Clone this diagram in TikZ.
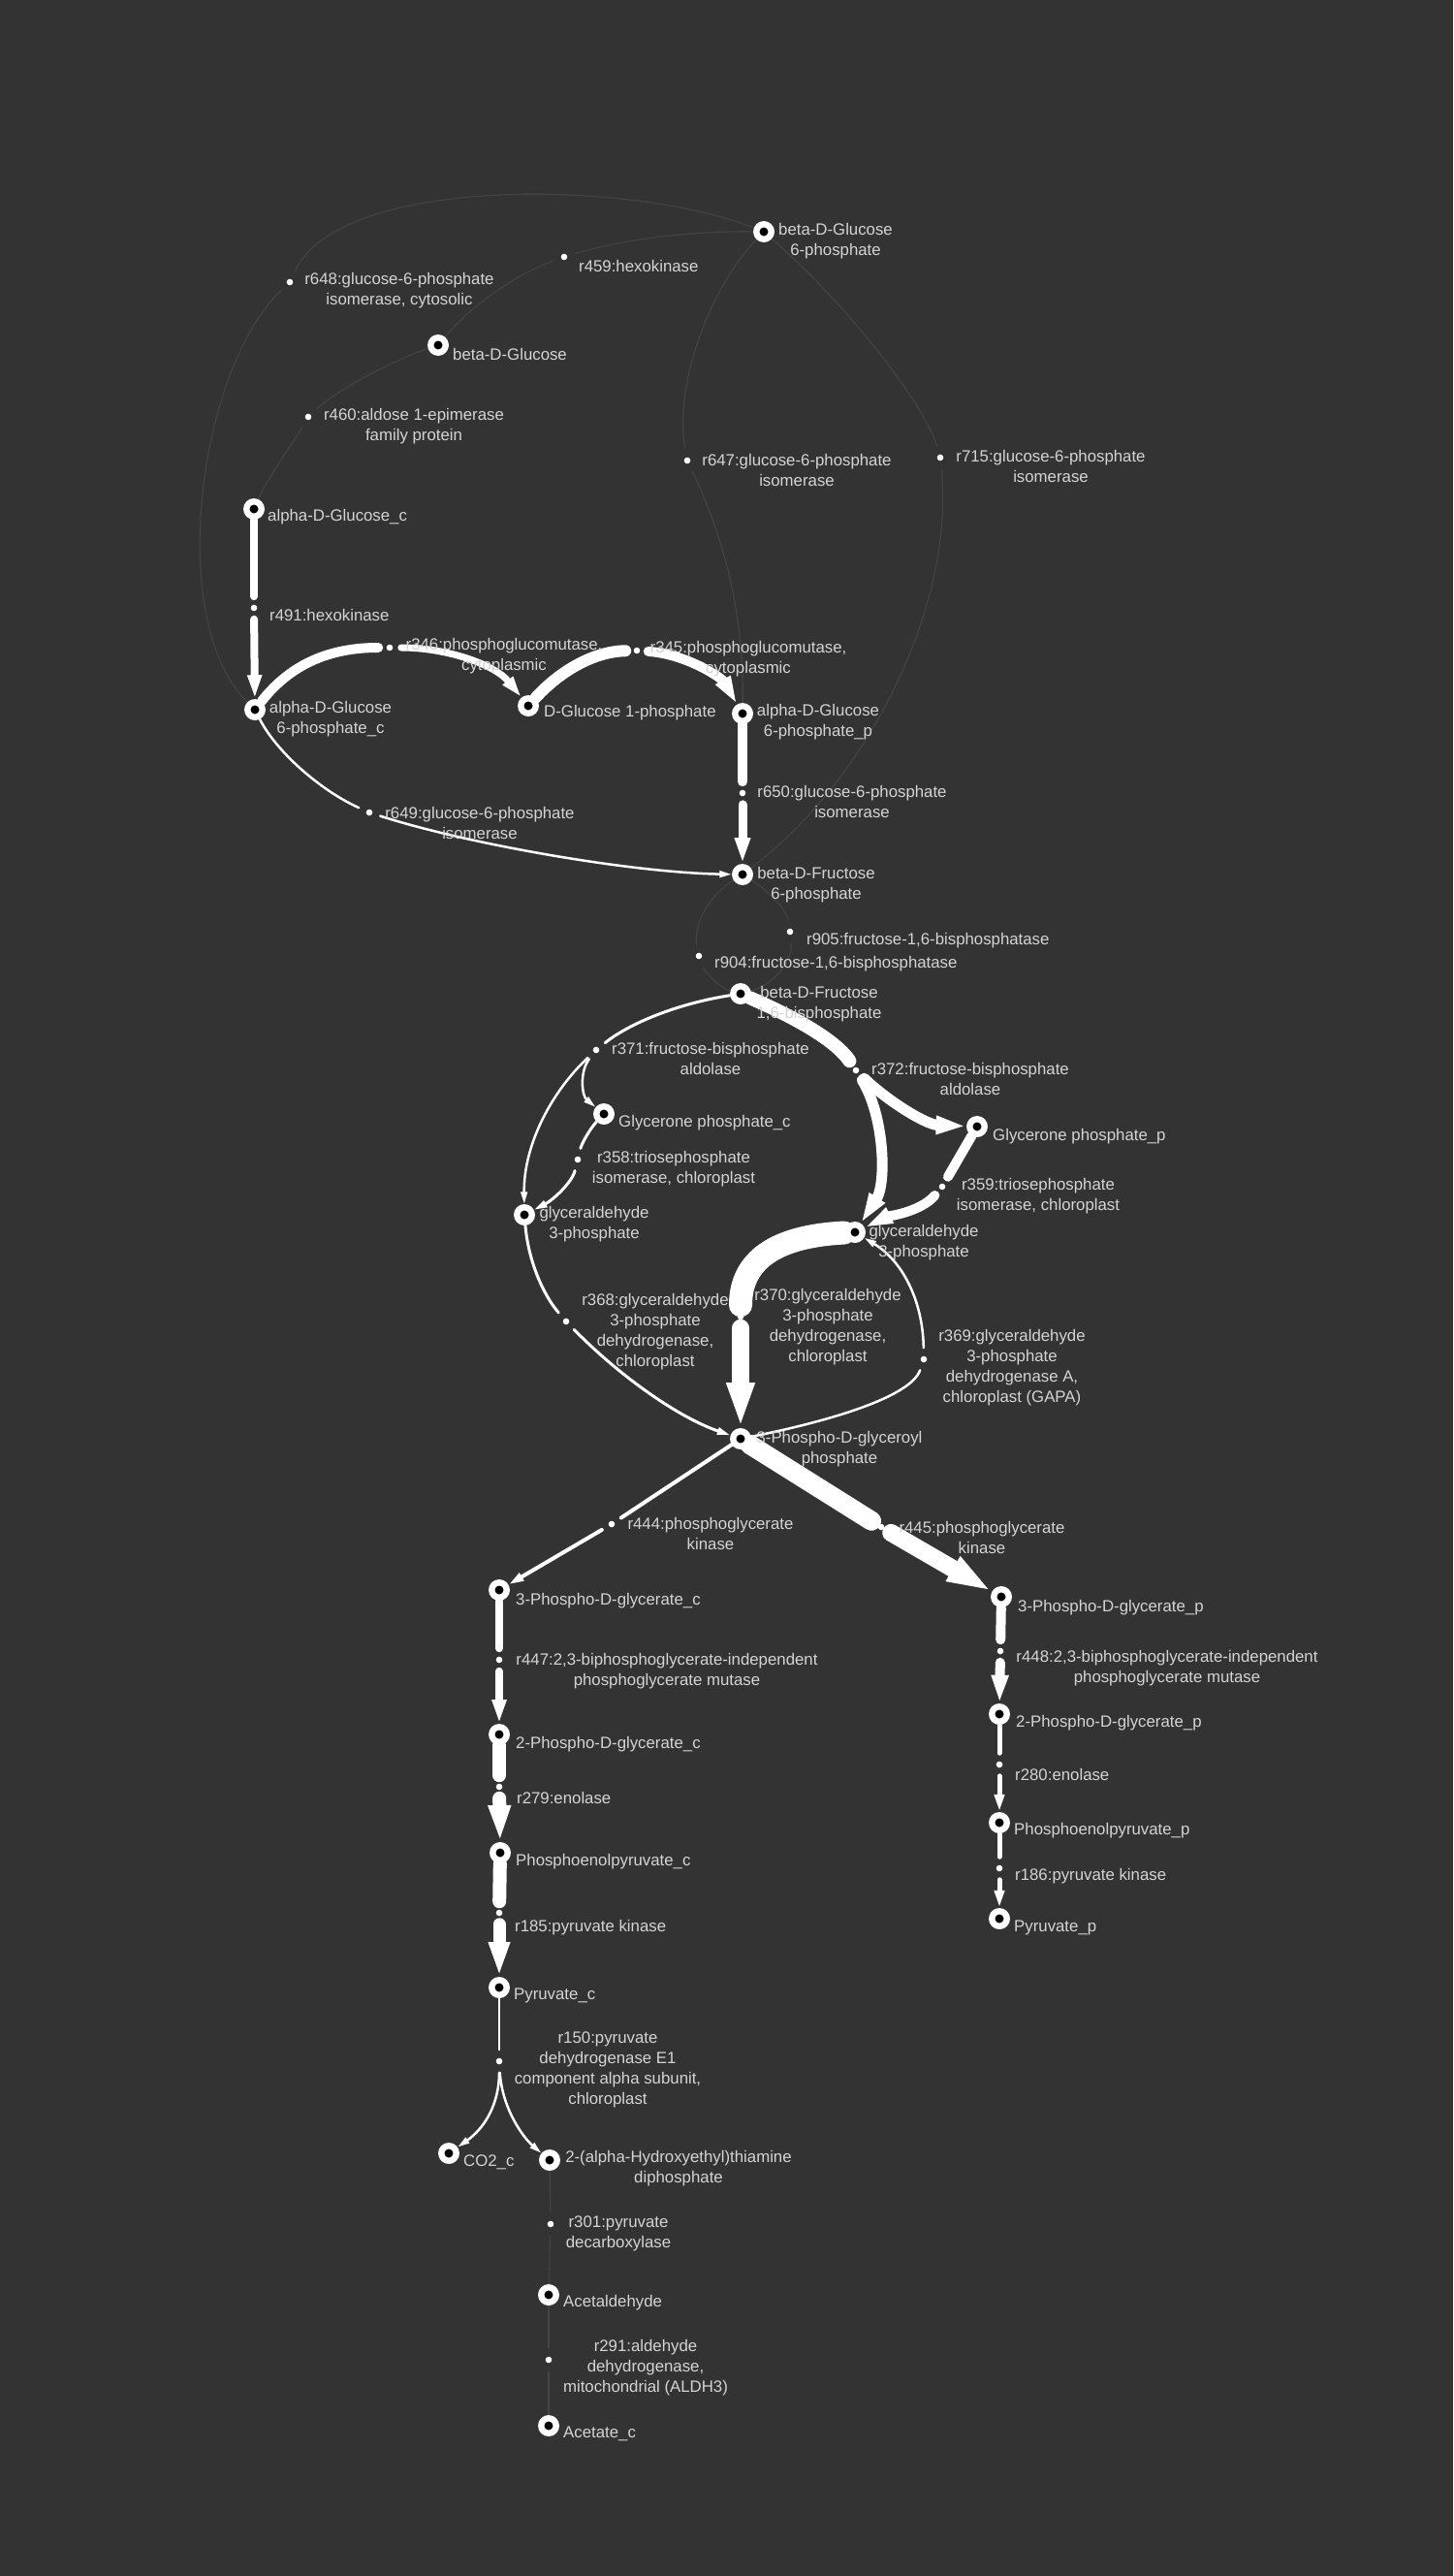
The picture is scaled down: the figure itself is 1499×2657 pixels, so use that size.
\documentclass[tikz,border=0pt]{standalone}
\usepackage{fontspec}
\setmainfont{Liberation Sans}
\usetikzlibrary{arrows.meta}
\definecolor{bgc}{RGB}{51,51,51}
\definecolor{faintc}{RGB}{68,68,68}
\definecolor{txtc}{RGB}{212,212,212}
\pgfdeclarelayer{edges}
\pgfsetlayers{edges,main}
\tikzset{
 met/.style={circle, fill=white, minimum size=22pt, inner sep=0pt,
   path picture={\fill[black] (path picture bounding box.center) circle (4.5pt);}},
 rxn/.style={circle, fill=white, minimum size=6.6pt, inner sep=0pt, outer sep=8.5pt},
 lbl/.style={text=txtc, inner sep=0pt, font=\fontsize{16.8}{21}\selectfont, align=center},
 lblw/.style={lbl, anchor=west},
 flow/.style={draw=white, line width=#1, line cap=round},
 arr/.style={-{Triangle[length=7pt 2.2, width=3.5pt 1.25]}},
 faint/.style={draw=faintc, line width=1.1pt},
}
\begin{document}
\begin{tikzpicture}[x=1pt,y=-1pt]
\useasboundingbox (0,0) rectangle (1499,2657);
% metabolites
\node[met] (BG6P) at (788,239) {};
\node[met] (BG) at (452,356) {};
\node[met] (aGc) at (262,525) {};
\node[met] (aG6Pc) at (263,732) {};
\node[met] (G1P) at (545,728) {};
\node[met] (aG6Pp) at (766,736) {};
\node[met] (BF6P) at (766,902) {};
\node[met] (BF16) at (764,1025) {};
\node[met] (GPc) at (623,1149) {};
\node[met] (GPp) at (1008,1162) {};
\node[met] (G3Pl) at (541,1253) {};
\node[met] (G3Pr) at (882,1271) {};
\node[met] (PDGP) at (764,1484) {};
\node[met] (PGc3) at (515,1640) {};
\node[met] (PGp3) at (1033,1647) {};
\node[met] (PGc2) at (515,1789) {};
\node[met] (PGp2) at (1031,1768) {};
\node[met] (PEPc) at (516,1911) {};
\node[met] (PEPp) at (1031,1880) {};
\node[met] (Pyrp) at (1031,1979) {};
\node[met] (Pyrc) at (515,2050) {};
\node[met] (CO2) at (463,2221) {};
\node[met] (HETPP) at (567,2228) {};
\node[met] (Acald) at (566,2367) {};
\node[met] (Acet) at (566,2502) {};
% reactions
\node[rxn] (r459) at (582,265) {};
\node[rxn] (r648) at (299,291) {};
\node[rxn] (r460) at (318,430) {};
\node[rxn] (r647) at (709,475) {};
\node[rxn] (r715) at (970,472) {};
\node[rxn] (r491) at (262,627) {};
\node[rxn] (r346) at (402,668) {};
\node[rxn] (r345) at (657,671) {};
\node[rxn] (r649) at (381,838) {};
\node[rxn] (r650) at (766,818) {};
\node[rxn] (r905) at (815,961) {};
\node[rxn] (r904) at (721,986) {};
\node[rxn] (r371) at (615,1083) {};
\node[rxn] (r372) at (883,1104) {};
\node[rxn] (r358) at (596,1196) {};
\node[rxn] (r359) at (972,1224) {};
\node[rxn] (r368) at (584,1363) {};
\node[rxn] (r370) at (764,1358) {};
\node[rxn] (r369) at (953,1402) {};
\node[rxn] (r444) at (631,1572) {};
\node[rxn] (r445) at (909,1575) {};
\node[rxn] (r447) at (515,1712) {};
\node[rxn] (r448) at (1032,1703) {};
\node[rxn] (r279) at (515,1843) {};
\node[rxn] (r280) at (1031,1820) {};
\node[rxn] (r185) at (515,1973) {};
\node[rxn] (r186) at (1031,1927) {};
\node[rxn] (r150) at (515,2126) {};
\node[rxn] (r301) at (568,2294) {};
\node[rxn] (r291) at (566,2434) {};
% metabolite labels
\node[lbl] (lBG6P) at (862,248.5) {beta-D-Glucose\\6-phosphate};
\node[lblw] (lBG) at (467,365) {beta-D-Glucose};
\node[lblw] (laGc) at (276,533) {alpha-D-Glucose\_c};
\node[lbl] (laG6Pc) at (341,741.5) {alpha-D-Glucose\\6-phosphate\_c};
\node[lblw] (lG1P) at (561,735) {D-Glucose 1-phosphate};
\node[lbl] (laG6Pp) at (844,744.5) {alpha-D-Glucose\\6-phosphate\_p};
\node[lbl] (lBF6P) at (842,912.5) {beta-D-Fructose\\6-phosphate};
\node[lbl] (lBF16) at (845,1035.5) {beta-D-Fructose\\1,6-bisphosphate};
\node[lblw] (lGPc) at (638,1158) {Glycerone phosphate\_c};
\node[lblw] (lGPp) at (1024,1172) {Glycerone phosphate\_p};
\node[lbl] (lG3Pl) at (613,1262.5) {glyceraldehyde\\3-phosphate};
\node[lbl] (lG3Pr) at (953,1281.5) {glyceraldehyde\\3-phosphate};
\node[lbl] (lPDGP) at (866,1495) {3-Phospho-D-glyceroyl\\phosphate};
\node[lblw] (lPGc3) at (532,1651) {3-Phospho-D-glycerate\_c};
\node[lblw] (lPGp3) at (1050,1658) {3-Phospho-D-glycerate\_p};
\node[lblw] (lPGc2) at (532,1799) {2-Phospho-D-glycerate\_c};
\node[lblw] (lPGp2) at (1048,1777) {2-Phospho-D-glycerate\_p};
\node[lblw] (lPEPc) at (532,1920) {Phosphoenolpyruvate\_c};
\node[lblw] (lPEPp) at (1046,1888) {Phosphoenolpyruvate\_p};
\node[lblw] (lPyrp) at (1046,1988) {Pyruvate\_p};
\node[lblw] (lPyrc) at (530,2058) {Pyruvate\_c};
\node[lblw] (lCO2) at (478,2230) {CO2\_c};
\node[lbl] (lHETPP) at (700,2237) {2-(alpha-Hydroxyethyl)thiamine\\diphosphate};
\node[lblw] (lAcald) at (581,2375) {Acetaldehyde};
\node[lblw] (lAcet) at (581,2510) {Acetate\_c};
% reaction labels
\node[lblw] (l459) at (597,274) {r459:hexokinase};
\node[lbl] (l648) at (412,299.5) {r648:glucose-6-phosphate\\isomerase, cytosolic};
\node[lbl] (l460) at (427,439.5) {r460:aldose 1-epimerase\\family protein};
\node[lbl] (l647) at (822,485) {r647:glucose-6-phosphate\\isomerase};
\node[lbl] (l715) at (1084,481) {r715:glucose-6-phosphate\\isomerase};
\node[lblw] (l491) at (278,634) {r491:hexokinase};
\node[lbl] (l346) at (520,676.5) {r346:phosphoglucomutase,\\cytoplasmic};
\node[lbl] (l345) at (772,679.5) {r345:phosphoglucomutase,\\cytoplasmic};
\node[lbl] (l649) at (495,848.5) {r649:glucose-6-phosphate\\isomerase};
\node[lbl] (l650) at (879,827) {r650:glucose-6-phosphate\\isomerase};
\node[lblw] (l905) at (832,970) {r905:fructose-1,6-bisphosphatase};
\node[lblw] (l904) at (737,994) {r904:fructose-1,6-bisphosphatase};
\node[lbl] (l371) at (733,1092) {r371:fructose-bisphosphate\\aldolase};
\node[lbl] (l372) at (1001,1113) {r372:fructose-bisphosphate\\aldolase};
\node[lbl] (l358) at (695,1205.5) {r358:triosephosphate\\isomerase, chloroplast};
\node[lbl] (l359) at (1071,1233.5) {r359:triosephosphate\\isomerase, chloroplast};
\node[lbl] (l368) at (676,1373.5) {r368:glyceraldehyde\\3-phosphate\\dehydrogenase,\\chloroplast};
\node[lbl] (l370) at (854,1368.5) {r370:glyceraldehyde\\3-phosphate\\dehydrogenase,\\chloroplast};
\node[lbl] (l369) at (1044,1411) {r369:glyceraldehyde\\3-phosphate\\dehydrogenase A,\\chloroplast (GAPA)};
\node[lbl] (l444) at (733,1581.5) {r444:phosphoglycerate\\kinase};
\node[lbl] (l445) at (1013,1586) {r445:phosphoglycerate\\kinase};
\node[lbl] (l447) at (688,1723.5) {r447:2,3-biphosphoglycerate-independent\\phosphoglycerate mutase};
\node[lbl] (l448) at (1204,1721) {r448:2,3-biphosphoglycerate-independent\\phosphoglycerate mutase};
\node[lblw] (l279) at (533,1854) {r279:enolase};
\node[lblw] (l280) at (1047,1830) {r280:enolase};
\node[lblw] (l185) at (531,1988) {r185:pyruvate kinase};
\node[lblw] (l186) at (1047,1935) {r186:pyruvate kinase};
\node[lbl] (l150) at (627,2134.5) {r150:pyruvate\\dehydrogenase E1\\component alpha subunit,\\chloroplast};
\node[lbl] (l301) at (638,2303.5) {r301:pyruvate\\decarboxylase};
\node[lbl] (l291) at (666,2442) {r291:aldehyde\\dehydrogenase,\\mitochondrial (ALDH3)};
\begin{pgfonlayer}{edges}
\fill[bgc] (0,0) rectangle (1499,2657);
% faint connectors
\draw[faint] (BG) .. controls (490,310) and (540,280) .. (r459);
\draw[faint] (r459) .. controls (650,245) and (720,238) .. (BG6P);
\draw[faint] (aG6Pc) .. controls (170,640) and (205,380) .. (r648);
\draw[faint] (r648) .. controls (350,180) and (650,185) .. (BG6P);
\draw[faint] (BG) .. controls (410,370) and (350,400) .. (r460);
\draw[faint] (r460) .. controls (300,460) and (275,495) .. (aGc);
\draw[faint] (BG6P) .. controls (730,300) and (695,400) .. (r647);
\draw[faint] (r647) .. controls (740,540) and (768,620) .. (aG6Pp);
\draw[faint] (BG6P) .. controls (880,320) and (955,420) .. (r715);
\draw[faint] (r715) .. controls (985,620) and (900,800) .. (BF6P);
\draw[faint] (BF6P) .. controls (730,925) and (715,955) .. (r904);
\draw[faint] (r904) .. controls (728,1005) and (745,1020) .. (BF16);
\draw[faint] (BF6P) .. controls (795,920) and (812,940) .. (r905);
\draw[faint] (r905) .. controls (818,990) and (800,1015) .. (BF16);
\draw[faint] (HETPP) -- (r301);
\draw[faint] (r301) -- (Acald);
\draw[faint] (Acald) -- (r291);
\draw[faint] (r291) -- (Acet);
% main flux
\draw[flow=8pt] (aGc) -- (r491);
\draw[flow=8pt, arr] (r491) -- (aG6Pc);
\draw[flow=10pt] (aG6Pc) .. controls (300,685) and (340,668) .. (r346);
\draw[flow=7pt, arr] (r346) .. controls (460,668) and (510,685) .. (G1P);
\draw[flow=12pt] (G1P) .. controls (575,695) and (610,672) .. (r345);
\draw[flow=10pt, arr] (r345) .. controls (710,675) and (745,700) .. (aG6Pp);
\draw[flow=10pt] (aG6Pp) -- (r650);
\draw[flow=9pt, arr] (r650) -- (BF6P);
\draw[flow=2.5pt] (aG6Pc) .. controls (285,775) and (330,815) .. (r649);
\draw[flow=2.5pt, arr] (r649) .. controls (480,870) and (650,900) .. (BF6P);
\draw[flow=3pt] (BF16) .. controls (700,1035) and (650,1055) .. (r371);
\draw[flow=2.5pt, arr] (r371) .. controls (598,1105) and (600,1130) .. (GPc);
\draw[flow=2.5pt, arr] (r371) .. controls (570,1125) and (540,1180) .. (G3Pl);
\draw[flow=3pt] (GPc) .. controls (608,1165) and (600,1180) .. (r358);
\draw[flow=3pt, arr] (r358) .. controls (590,1220) and (570,1238) .. (G3Pl);
\draw[flow=14pt] (BF16) .. controls (810,1045) and (860,1070) .. (r372);
\draw[flow=11pt, arr] (r372) .. controls (915,1135) and (955,1160) .. (GPp);
\draw[flow=11pt, arr] (r372) .. controls (912,1150) and (915,1220) .. (G3Pr);
\draw[flow=10pt] (GPp) -- (r359);
\draw[flow=10pt, arr] (r359) .. controls (950,1250) and (915,1255) .. (G3Pr);
\draw[flow=3pt] (G3Pl) .. controls (545,1300) and (560,1335) .. (r368);
\draw[flow=3pt, arr] (r368) .. controls (640,1420) and (700,1462) .. (PDGP);
\draw[flow=24pt] (G3Pr) .. controls (800,1275) and (764,1300) .. (r370);
\draw[flow=18pt, arr] (r370) -- (PDGP);
\draw[flow=2.5pt] (PDGP) .. controls (860,1465) and (940,1440) .. (r369);
\draw[flow=2.5pt, arr] (r369) .. controls (952,1340) and (930,1300) .. (G3Pr);
\draw[flow=4pt] (PDGP) -- (r444);
\draw[flow=4pt, arr] (r444) -- (PGc3);
\draw[flow=20pt] (PDGP) -- (r445);
\draw[flow=18pt, arr] (r445) -- (PGp3);
\draw[flow=8pt] (PGc3) -- (r447);
\draw[flow=8pt, arr] (r447) -- (PGc2);
\draw[flow=10pt] (PGp3) -- (r448);
\draw[flow=10pt, arr] (r448) -- (PGp2);
\draw[flow=14pt] (PGc2) -- (r279);
\draw[flow=14pt, arr] (r279) -- (PEPc);
\draw[flow=5pt] (PGp2) -- (r280);
\draw[flow=5pt, arr] (r280) -- (PEPp);
\draw[flow=14pt] (PEPc) -- (r185);
\draw[flow=13pt, arr] (r185) -- (Pyrc);
\draw[flow=5pt] (PEPp) -- (r186);
\draw[flow=5pt, arr] (r186) -- (Pyrp);
\draw[flow=2.5pt] (Pyrc) -- (r150);
\draw[flow=2.5pt, arr] (r150) .. controls (515,2170) and (500,2195) .. (CO2);
\draw[flow=2.5pt, arr] (r150) .. controls (518,2175) and (540,2205) .. (HETPP);
\end{pgfonlayer}
\end{tikzpicture}
\end{document}
